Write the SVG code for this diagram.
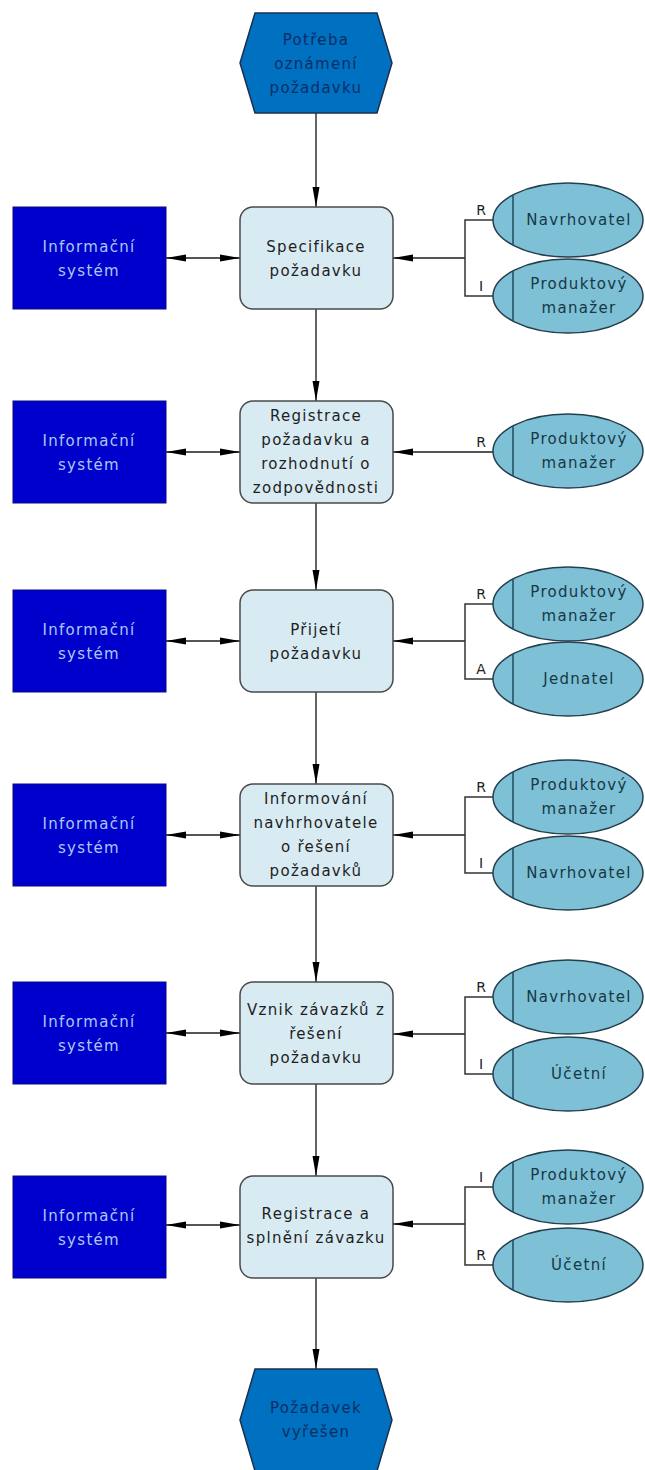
<svg xmlns="http://www.w3.org/2000/svg" width="645" height="1470" viewBox="0 0 645 1470">
<defs>
<marker id="ah" markerUnits="userSpaceOnUse" markerWidth="22" markerHeight="10" refX="20" refY="4" orient="auto-start-reverse">
<path d="M0,0.5 L20,4 L0,7.5 Z" fill="#000"/>
</marker>
<style>
text{font-family:"DejaVu Sans","Liberation Sans",sans-serif;font-size:15px;letter-spacing:1.3px;text-anchor:middle}
.hex{fill:#0070C0;stroke:#1c2f4f;stroke-width:1.5}
.hext{fill:#0b2e66}
.proc{fill:#d8ebf3;stroke:#4a4a4a;stroke-width:1.5}
.proct{fill:#1e1e1e}
.info{fill:#0000CC;stroke:#0a0a80;stroke-width:1}
.infot{fill:#a9c9f5}
.role{fill:#7ec0d6;stroke:#253f4c;stroke-width:1.5}
.div{stroke:#1f4a5c;stroke-width:1.5}
.rolet{fill:#173844}
.lbl{fill:#222;font-size:14px;letter-spacing:0}
.c{fill:none;stroke:#333;stroke-width:1.5}
.cb{fill:none;stroke:#555;stroke-width:2}
</style>
</defs>

<g id="connectors">
<line class="c" x1="316" y1="113" x2="316" y2="207" marker-end="url(#ah)"/>
<line class="c" x1="316" y1="309" x2="316" y2="401" marker-end="url(#ah)"/>
<line class="c" x1="316" y1="503" x2="316" y2="590" marker-end="url(#ah)"/>
<line class="c" x1="316" y1="692" x2="316" y2="784" marker-end="url(#ah)"/>
<line class="c" x1="316" y1="886" x2="316" y2="982" marker-end="url(#ah)"/>
<line class="c" x1="316" y1="1084" x2="316" y2="1176" marker-end="url(#ah)"/>
<line class="c" x1="316" y1="1278" x2="316" y2="1369" marker-end="url(#ah)"/>

<line class="cb" x1="166" y1="258" x2="240" y2="258" marker-start="url(#ah)" marker-end="url(#ah)"/>
<line class="cb" x1="166" y1="452" x2="240" y2="452" marker-start="url(#ah)" marker-end="url(#ah)"/>
<line class="cb" x1="166" y1="641" x2="240" y2="641" marker-start="url(#ah)" marker-end="url(#ah)"/>
<line class="cb" x1="166" y1="835" x2="240" y2="835" marker-start="url(#ah)" marker-end="url(#ah)"/>
<line class="cb" x1="166" y1="1033" x2="240" y2="1033" marker-start="url(#ah)" marker-end="url(#ah)"/>
<line class="cb" x1="166" y1="1225" x2="240" y2="1225" marker-start="url(#ah)" marker-end="url(#ah)"/>

<line class="cb" x1="465" y1="258" x2="393" y2="258" marker-end="url(#ah)"/>
<path class="c" d="M493,220 H465 V296 H493"/>
<text class="lbl" x="481" y="215">R</text>
<text class="lbl" x="481" y="291">I</text>

<line class="cb" x1="493" y1="452" x2="393" y2="452" marker-end="url(#ah)"/>
<text class="lbl" x="481" y="447">R</text>

<line class="cb" x1="465" y1="641" x2="393" y2="641" marker-end="url(#ah)"/>
<path class="c" d="M493,604 H465 V679 H493"/>
<text class="lbl" x="481" y="599">R</text>
<text class="lbl" x="481" y="674">A</text>

<line class="cb" x1="465" y1="835" x2="393" y2="835" marker-end="url(#ah)"/>
<path class="c" d="M493,797 H465 V873 H493"/>
<text class="lbl" x="481" y="792">R</text>
<text class="lbl" x="481" y="868">I</text>

<line class="cb" x1="465" y1="1034" x2="393" y2="1034" marker-end="url(#ah)"/>
<path class="c" d="M493,997 H465 V1074 H493"/>
<text class="lbl" x="481" y="992">R</text>
<text class="lbl" x="481" y="1069">I</text>

<line class="cb" x1="465" y1="1224" x2="393" y2="1224" marker-end="url(#ah)"/>
<path class="c" d="M493,1187 H465 V1265 H493"/>
<text class="lbl" x="481" y="1182">I</text>
<text class="lbl" x="481" y="1260">R</text>
</g>

<g id="start">
<polygon class="hex" points="255,13 377,13 392,63 377,113 255,113 240,63"/>
<text class="hext" x="316" y="45">Potřeba</text>
<text class="hext" x="316" y="69">oznámení</text>
<text class="hext" x="316" y="93">požadavku</text>
</g>

<g id="p1">
<rect class="proc" x="240" y="207" width="153" height="102" rx="13"/>
<text class="proct" x="316" y="252">Specifikace</text>
<text class="proct" x="316" y="276">požadavku</text>
</g>
<g id="p2">
<rect class="proc" x="240" y="401" width="153" height="102" rx="13"/>
<text class="proct" x="316" y="421">Registrace</text>
<text class="proct" x="316" y="445">požadavku a</text>
<text class="proct" x="316" y="469">rozhodnutí o</text>
<text class="proct" x="316" y="493">zodpovědnosti</text>
</g>
<g id="p3">
<rect class="proc" x="240" y="590" width="153" height="102" rx="13"/>
<text class="proct" x="316" y="635">Přijetí</text>
<text class="proct" x="316" y="659">požadavku</text>
</g>
<g id="p4">
<rect class="proc" x="240" y="784" width="153" height="102" rx="13"/>
<text class="proct" x="316" y="804">Informování</text>
<text class="proct" x="316" y="828">navhrhovatele</text>
<text class="proct" x="316" y="852">o řešení</text>
<text class="proct" x="316" y="876">požadavků</text>
</g>
<g id="p5">
<rect class="proc" x="240" y="982" width="153" height="102" rx="13"/>
<text class="proct" x="316" y="1015">Vznik závazků z</text>
<text class="proct" x="316" y="1039">řešení</text>
<text class="proct" x="316" y="1063">požadavku</text>
</g>
<g id="p6">
<rect class="proc" x="240" y="1176" width="153" height="102" rx="13"/>
<text class="proct" x="316" y="1219">Registrace a</text>
<text class="proct" x="316" y="1243">splnění závazku</text>
</g>

<g id="end">
<polygon class="hex" points="255,1369 377,1369 392,1420 377,1471 255,1471 240,1420"/>
<text class="hext" x="316" y="1413">Požadavek</text>
<text class="hext" x="316" y="1437">vyřešen</text>
</g>

<g id="is1"><rect class="info" x="13" y="207" width="153" height="102"/><text class="infot" x="89" y="252">Informační</text><text class="infot" x="89" y="276">systém</text></g>
<g id="is2"><rect class="info" x="13" y="401" width="153" height="102"/><text class="infot" x="89" y="446">Informační</text><text class="infot" x="89" y="470">systém</text></g>
<g id="is3"><rect class="info" x="13" y="590" width="153" height="102"/><text class="infot" x="89" y="635">Informační</text><text class="infot" x="89" y="659">systém</text></g>
<g id="is4"><rect class="info" x="13" y="784" width="153" height="102"/><text class="infot" x="89" y="829">Informační</text><text class="infot" x="89" y="853">systém</text></g>
<g id="is5"><rect class="info" x="13" y="982" width="153" height="102"/><text class="infot" x="89" y="1027">Informační</text><text class="infot" x="89" y="1051">systém</text></g>
<g id="is6"><rect class="info" x="13" y="1176" width="153" height="102"/><text class="infot" x="89" y="1221">Informační</text><text class="infot" x="89" y="1245">systém</text></g>

<g id="r1a"><ellipse class="role" cx="568" cy="220" rx="75" ry="37"/><line class="div" x1="513" y1="195" x2="513" y2="245"/><text class="rolet" x="579" y="225">Navrhovatel</text></g>
<g id="r1b"><ellipse class="role" cx="568" cy="296" rx="75" ry="37"/><line class="div" x1="513" y1="271" x2="513" y2="321"/><text class="rolet" x="579" y="289">Produktový</text><text class="rolet" x="579" y="313">manažer</text></g>
<g id="r2a"><ellipse class="role" cx="568" cy="451" rx="75" ry="37"/><line class="div" x1="513" y1="426" x2="513" y2="476"/><text class="rolet" x="579" y="444">Produktový</text><text class="rolet" x="579" y="468">manažer</text></g>
<g id="r3a"><ellipse class="role" cx="568" cy="604" rx="75" ry="37"/><line class="div" x1="513" y1="579" x2="513" y2="629"/><text class="rolet" x="579" y="597">Produktový</text><text class="rolet" x="579" y="621">manažer</text></g>
<g id="r3b"><ellipse class="role" cx="568" cy="679" rx="75" ry="37"/><line class="div" x1="513" y1="654" x2="513" y2="704"/><text class="rolet" x="579" y="684">Jednatel</text></g>
<g id="r4a"><ellipse class="role" cx="568" cy="797" rx="75" ry="37"/><line class="div" x1="513" y1="772" x2="513" y2="822"/><text class="rolet" x="579" y="790">Produktový</text><text class="rolet" x="579" y="814">manažer</text></g>
<g id="r4b"><ellipse class="role" cx="568" cy="873" rx="75" ry="37"/><line class="div" x1="513" y1="848" x2="513" y2="898"/><text class="rolet" x="579" y="878">Navrhovatel</text></g>
<g id="r5a"><ellipse class="role" cx="568" cy="997" rx="75" ry="37"/><line class="div" x1="513" y1="972" x2="513" y2="1022"/><text class="rolet" x="579" y="1002">Navrhovatel</text></g>
<g id="r5b"><ellipse class="role" cx="568" cy="1074" rx="75" ry="37"/><line class="div" x1="513" y1="1049" x2="513" y2="1099"/><text class="rolet" x="579" y="1079">Účetní</text></g>
<g id="r6a"><ellipse class="role" cx="568" cy="1187" rx="75" ry="37"/><line class="div" x1="513" y1="1162" x2="513" y2="1212"/><text class="rolet" x="579" y="1180">Produktový</text><text class="rolet" x="579" y="1204">manažer</text></g>
<g id="r6b"><ellipse class="role" cx="568" cy="1265" rx="75" ry="37"/><line class="div" x1="513" y1="1240" x2="513" y2="1290"/><text class="rolet" x="579" y="1270">Účetní</text></g>
</svg>
